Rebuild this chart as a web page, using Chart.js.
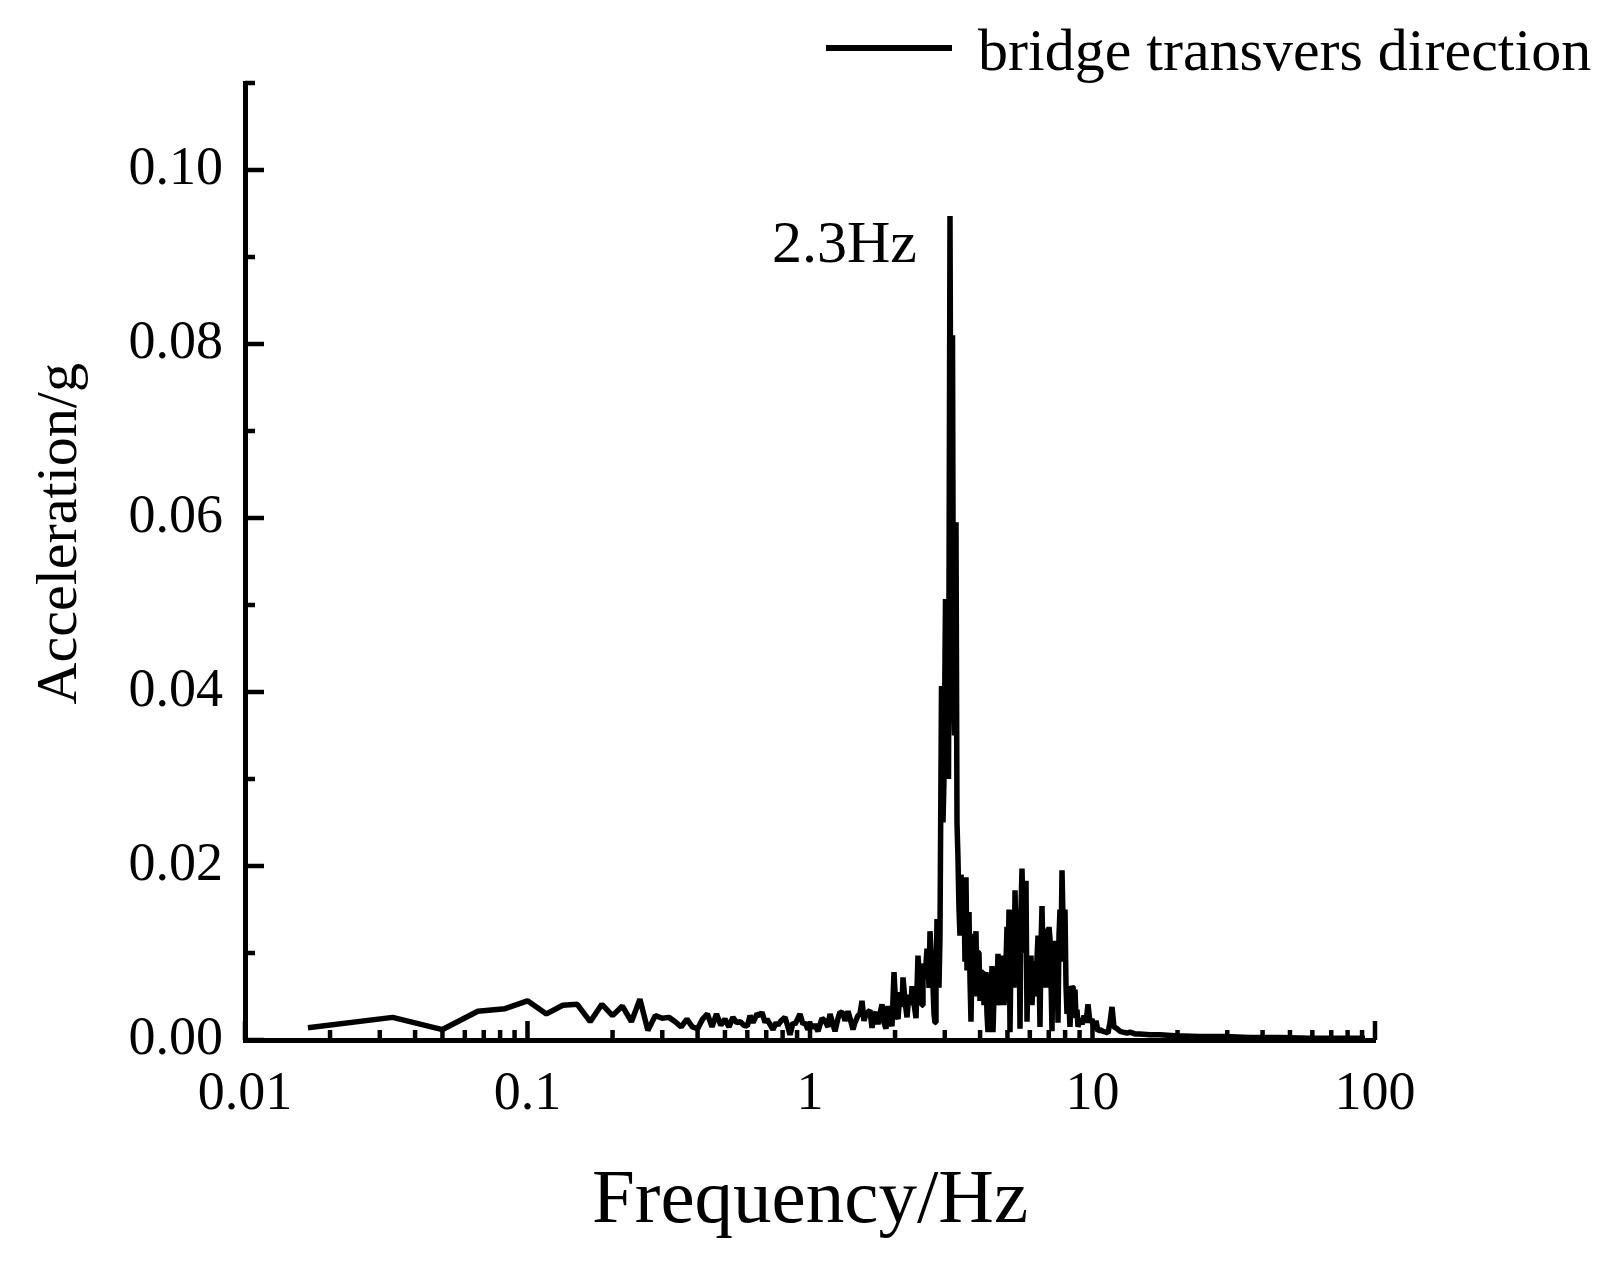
<!DOCTYPE html>
<html>
<head>
<meta charset="utf-8">
<script src="https://cdn.jsdelivr.net/npm/chart.js@4.4.1/dist/chart.umd.min.js"></script>
<style>
  html, body { margin: 0; padding: 0; background: #fff; }
  #wrap { width: 1619px; height: 1266px; }
</style>
</head>
<body>
<div id="wrap"><canvas id="myChart"></canvas></div>
<script>
// frequency (Hz) of each spectrum point
const freqs = [
  0.0167, 0.0333, 0.05, 0.0667, 0.0833, 0.1, 0.1167, 0.1333, 0.15, 0.1667,
  0.1833, 0.2, 0.2167, 0.2333, 0.25, 0.2667, 0.2833, 0.3, 0.3167, 0.3333,
  0.35, 0.3667, 0.3833, 0.4, 0.4167, 0.4333, 0.45, 0.4667, 0.4833, 0.5,
  0.5167, 0.5333, 0.55, 0.5667, 0.5833, 0.6, 0.6132, 0.6284, 0.6492, 0.6653,
  0.6762, 0.693, 0.7044, 0.7218, 0.7396, 0.758, 0.7704, 0.7895, 0.8156, 0.8358,
  0.8496, 0.8706, 0.8849, 0.9068, 0.9217, 0.9446, 0.9601, 0.9838, 1.0, 1.0248,
  1.0416, 1.0674, 1.1028, 1.13, 1.158, 1.1771, 1.2062, 1.2261, 1.2564, 1.277,
  1.3086, 1.3301, 1.3631, 1.3855, 1.4197, 1.4431, 1.4788, 1.5031, 1.5278, 1.5529,
  1.5784, 1.6043, 1.6308, 1.6576, 1.6848, 1.7125, 1.7407, 1.7693, 1.7984, 1.8279,
  1.8579, 1.8885, 1.9196, 1.9511, 1.9832, 2.0158, 2.0489, 2.0825, 2.1167, 2.134,
  2.1691, 2.2047, 2.2409, 2.2779, 2.2965, 2.3342, 2.3726, 2.392, 2.4116, 2.4512,
  2.4915, 2.5118, 2.5531, 2.5951, 2.6163, 2.6377, 2.6594, 2.7031, 2.7252, 2.7475,
  2.77, 2.7926, 2.8155, 2.8385, 2.8617, 2.8852, 2.9207, 2.9566, 2.9808, 3.0175,
  3.0422, 3.0671, 3.0922, 3.1302, 3.1558, 3.1947, 3.2208, 3.2471, 3.287, 3.3139,
  3.341, 3.3684, 3.396, 3.4238, 3.4518, 3.48, 3.5085, 3.5372, 3.5661, 3.5953,
  3.6247, 3.6544, 3.6843, 3.7144, 3.7448, 3.7755, 3.8063, 3.8375, 3.8689, 3.9005,
  3.9324, 3.9646, 3.9972, 4.0299, 4.0629, 4.0961, 4.1296, 4.1634, 4.1975, 4.2318,
  4.2664, 4.3013, 4.3366, 4.3721, 4.4078, 4.4439, 4.4802, 4.5169, 4.5539, 4.5911,
  4.6287, 4.6665, 4.7055, 4.744, 4.7828, 4.8219, 4.8613, 4.9012, 4.9412, 4.9817,
  5.0224, 5.0635, 5.105, 5.1468, 5.1889, 5.2313, 5.2741, 5.3173, 5.3608, 5.4046,
  5.4488, 5.4934, 5.5385, 5.5838, 5.6295, 5.6755, 5.7219, 5.7688, 5.816, 5.8636,
  5.9115, 5.9599, 6.0087, 6.0579, 6.1074, 6.1574, 6.2077, 6.2585, 6.3097, 6.3614,
  6.4134, 6.4659, 6.5189, 6.5722, 6.626, 6.6802, 6.7348, 6.79, 6.8455, 6.9015,
  6.958, 7.0149, 7.0724, 7.1303, 7.1886, 7.2474, 7.3066, 7.3665, 7.4267, 7.4875,
  7.5487, 7.6105, 7.673, 7.7358, 7.7991, 7.8628, 7.9271, 7.992, 8.0574, 8.1233,
  8.1898, 8.2568, 8.3245, 8.3926, 8.4613, 8.5304, 8.6002, 8.6706, 8.7416, 8.8131,
  8.8852, 9.0313, 9.1797, 9.3304, 9.4838, 9.6396, 9.7982, 9.9592, 10.123, 10.289,
  10.458, 10.63, 10.893, 11.163, 11.346, 11.533, 11.722, 11.915, 12.21, 12.512,
  12.822, 13.246, 13.576, 14.14, 14.73, 15.97, 17.33, 19.59, 24.0, 29.4,
  36.1, 46.1, 58.9, 75.2, 92.2
];

// acceleration amplitude (g) at each frequency
const accel = [
  0.0014, 0.0026, 0.0012, 0.0033, 0.0036, 0.0045, 0.0030, 0.0040, 0.0041, 0.0021,
  0.0041, 0.0028, 0.0039, 0.0021, 0.0047, 0.0011, 0.0028, 0.0025, 0.0026, 0.0021,
  0.0015, 0.0024, 0.0015, 0.0013, 0.0024, 0.0030, 0.0015, 0.0030, 0.0017, 0.0024,
  0.0015, 0.0026, 0.0020, 0.0021, 0.0017, 0.0016, 0.0028, 0.0020, 0.0030, 0.0028,
  0.0032, 0.0020, 0.0024, 0.0018, 0.0012, 0.0020, 0.0017, 0.0022, 0.0026, 0.0015,
  0.0006, 0.0020, 0.0018, 0.0025, 0.0030, 0.0018, 0.0020, 0.0012, 0.0019, 0.0014,
  0.0018, 0.0010, 0.0025, 0.0022, 0.0015, 0.0030, 0.0018, 0.0010, 0.0025, 0.0032,
  0.0031, 0.0022, 0.0033, 0.0025, 0.0012, 0.0020, 0.0028, 0.0030, 0.0045, 0.0022,
  0.0030, 0.0032, 0.0034, 0.0014, 0.0028, 0.0032, 0.0018, 0.0030, 0.0041, 0.0020,
  0.0013, 0.0039, 0.0022, 0.0016, 0.0078, 0.0032, 0.0024, 0.0055, 0.0038, 0.0072,
  0.0045, 0.0026, 0.0052, 0.0040, 0.0062, 0.0042, 0.0025, 0.0060, 0.0097, 0.0062,
  0.0040, 0.0088, 0.0070, 0.0105, 0.0095, 0.0060, 0.0125, 0.0080, 0.0062, 0.0030,
  0.0020, 0.0060, 0.0139, 0.0100, 0.0060, 0.0120, 0.0407, 0.0250, 0.0300, 0.0507,
  0.0320, 0.0400, 0.0300, 0.0947, 0.0600, 0.0810, 0.0400, 0.0350, 0.0595, 0.0250,
  0.0208, 0.0150, 0.0120, 0.0190, 0.0162, 0.0120, 0.0162, 0.0090, 0.0187, 0.0080,
  0.0122, 0.0147, 0.0070, 0.0021, 0.0090, 0.0122, 0.0060, 0.0101, 0.0125, 0.0050,
  0.0101, 0.0100, 0.0045, 0.0070, 0.0078, 0.0078, 0.0040, 0.0070, 0.0078, 0.0030,
  0.0009, 0.0060, 0.0076, 0.0045, 0.0085, 0.0009, 0.0050, 0.0070, 0.0040, 0.0060,
  0.0099, 0.0050, 0.0040, 0.0080, 0.0097, 0.0060, 0.0040, 0.0070, 0.0090, 0.0130,
  0.0080, 0.0150, 0.0009, 0.0100, 0.0149, 0.0120, 0.0060, 0.0172, 0.0110, 0.0150,
  0.0090, 0.0130, 0.0013, 0.0150, 0.0197, 0.0140, 0.0100, 0.0160, 0.0183, 0.0021,
  0.0080, 0.0094, 0.0050, 0.0097, 0.0040, 0.0070, 0.0090, 0.0086, 0.0050, 0.0094,
  0.0120, 0.0080, 0.0015, 0.0110, 0.0154, 0.0090, 0.0128, 0.0110, 0.0060, 0.0120,
  0.0080, 0.0130, 0.0116, 0.0070, 0.0010, 0.0114, 0.0090, 0.0110, 0.0060, 0.0100,
  0.0020, 0.0120, 0.0150, 0.0100, 0.0195, 0.0140, 0.0090, 0.0150, 0.0062, 0.0030,
  0.0050, 0.0040, 0.0015, 0.0045, 0.0062, 0.0059, 0.0030, 0.0058, 0.0025, 0.0035,
  0.0015, 0.0025, 0.0018, 0.0028, 0.0020, 0.0041, 0.0020, 0.0024, 0.0012, 0.0022,
  0.0010, 0.0012, 0.0010, 0.0009, 0.0008, 0.0020, 0.0038, 0.0015, 0.0013, 0.0010,
  0.0009, 0.0008, 0.0009, 0.0007, 0.0007, 0.0006, 0.0006, 0.0005, 0.0004, 0.0004,
  0.0003, 0.0003, 0.0002, 0.0002, 0.0002
];

const xTicks = [0.01, 0.1, 1, 10, 100];
const xTickLabels = ["0.01", "0.1", "1", "10", "100"];
const yTicks = [0, 0.02, 0.04, 0.06, 0.08, 0.1];
const yMax = 0.11;

const seriesLabel = "bridge transvers direction";
const peakFreq = 3.1302;
const peakLabelValue = 0.0894;
const peakLabel = "2.3Hz";
const xTitle = "Frequency/Hz";
const yTitle = "Acceleration/g";

const family = '"Liberation Serif", "Times New Roman", serif';
const ctx = document.getElementById("myChart");

const points = freqs.map((f, i) => ({ x: f, y: accel[i] }));

// inward ticks, axis titles, legend and peak label
const extras = {
  id: "extras",
  afterDraw(chart) {
    const c = chart.ctx;
    const xs = chart.scales.x;
    const ys = chart.scales.y;
    const area = chart.chartArea;
    c.save();
    c.strokeStyle = "#000";
    c.fillStyle = "#000";
    c.lineWidth = 4.5;
    c.lineCap = "butt";

    // x ticks pointing up into the plot
    c.beginPath();
    for (let d = 0; d < xTicks.length; d++) {
      const base = xTicks[d];
      const px = xs.getPixelForValue(base);
      c.moveTo(px, area.bottom);
      c.lineTo(px, area.bottom - 19);
      if (d < xTicks.length - 1) {
        for (let m = 2; m <= 9; m++) {
          const mx = xs.getPixelForValue(base * m);
          c.moveTo(mx, area.bottom);
          c.lineTo(mx, area.bottom - 10);
        }
      }
    }
    // y ticks pointing right into the plot
    for (let i = 0; i <= Math.round(yMax * 100); i++) {
      const py = ys.getPixelForValue(i / 100);
      const len = i % 2 === 0 ? 19 : 10;
      c.moveTo(area.left, py);
      c.lineTo(area.left + len, py);
    }
    c.stroke();

    // peak label
    c.font = "60px " + family;
    c.textAlign = "right";
    c.textBaseline = "alphabetic";
    c.fillText(peakLabel, xs.getPixelForValue(peakFreq) - 33, ys.getPixelForValue(peakLabelValue));

    // legend
    c.lineWidth = 6;
    c.beginPath();
    c.moveTo(826, 48);
    c.lineTo(952, 48);
    c.stroke();
    c.textAlign = "left";
    c.fillText(seriesLabel, 978, 70);

    // x title
    c.font = "77px " + family;
    c.textAlign = "center";
    c.fillText(xTitle, (area.left + area.right) / 2, 1222);

    // y title
    c.font = "58px " + family;
    c.translate(76, area.top + (area.bottom - area.top) * 0.471);
    c.rotate(-Math.PI / 2);
    c.fillText(yTitle, 0, 0);
    c.restore();
  }
};

new Chart(ctx, {
  type: "line",
  data: {
    datasets: [
      {
        label: seriesLabel,
        data: points,
        borderColor: "#000",
        borderWidth: 5.5,
        borderJoinStyle: "bevel",
        pointRadius: 0,
        fill: false,
        tension: 0,
      },
    ],
  },
  options: {
    responsive: true,
    maintainAspectRatio: false,
    animation: false,
    layout: { padding: { top: 83, right: 244, left: 0, bottom: 0 } },
    plugins: {
      legend: { display: false },
      tooltip: { enabled: false },
    },
    scales: {
      x: {
        type: "logarithmic",
        min: 0.01,
        max: 100,
        afterBuildTicks: (s) => {
          s.ticks = xTicks.map((v) => ({ value: v }));
        },
        afterFit: (s) => {
          s.height = 226;
        },
        grid: { display: false, drawTicks: false },
        border: { display: true, color: "#000", width: 5 },
        ticks: {
          autoSkip: false,
          maxRotation: 0,
          padding: 22,
          color: "#000",
          font: { family: family, size: 54 },
          callback: (v, i) => xTickLabels[i],
        },
      },
      y: {
        type: "linear",
        min: 0,
        max: yMax,
        afterBuildTicks: (s) => {
          s.ticks = yTicks.map((v) => ({ value: v }));
        },
        afterFit: (s) => {
          s.width = 245;
        },
        grid: { display: false, drawTicks: false },
        border: { display: true, color: "#000", width: 5 },
        ticks: {
          padding: 22,
          color: "#000",
          font: { family: family, size: 54 },
          callback: (v) => v.toFixed(2),
        },
      },
    },
  },
  plugins: [extras],
});
</script>
</body>
</html>
